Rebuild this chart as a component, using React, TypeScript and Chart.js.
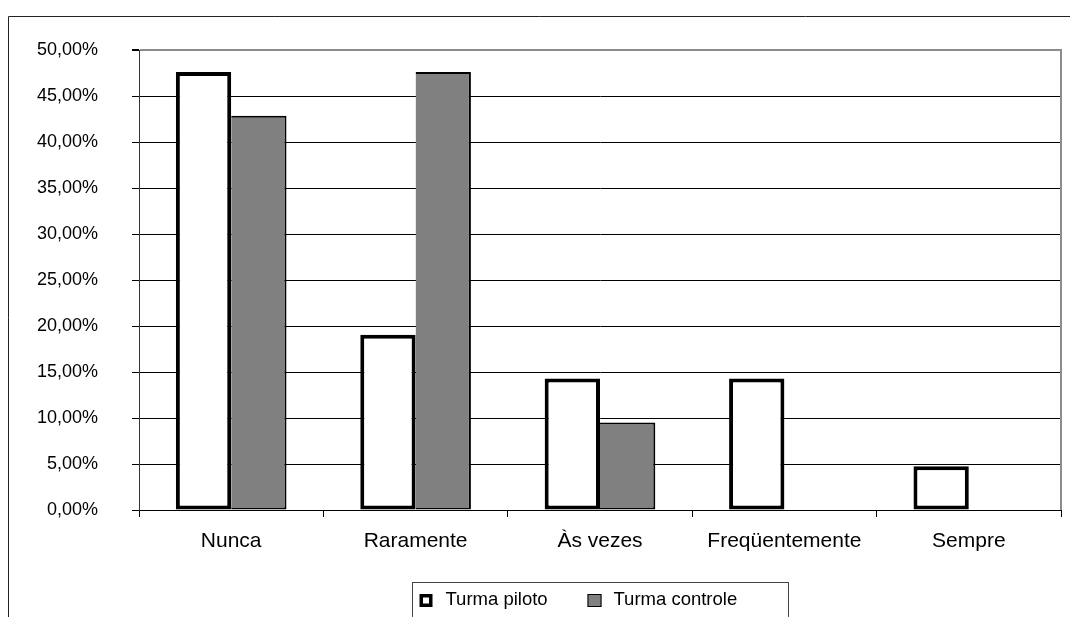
import React, { useEffect, useRef } from "react";
import { Chart, registerables } from "chart.js";

Chart.register(...registerables);

// Frequência de respostas por turma (percentual)
const categories = ["Nunca", "Raramente", "Às vezes", "Freqüentemente", "Sempre"];
const pilotoValues = [47.62, 19.05, 14.29, 14.29, 4.76];
const controleValues = [42.86, 47.62, 9.52, 0, 0];
const seriesNames = ["Turma piloto", "Turma controle"];
const yMax = 50;
const yStep = 5;

const FONT = '"Liberation Sans", Arial, Helvetica, sans-serif';

const formatPercent = (v: number) => v.toFixed(2).replace(".", ",") + "%";

// Draws the outer frame, the right edge of the plot area and the boxed legend.
const framePlugin = {
  id: "frameAndLegend",
  afterDraw(chart: any) {
    const { ctx, chartArea } = chart;
    ctx.save();

    // right edge of the plot area
    ctx.strokeStyle = "#8c8c8c";
    ctx.lineWidth = 2;
    ctx.beginPath();
    ctx.moveTo(chartArea.right, chartArea.top - 1);
    ctx.lineTo(chartArea.right, chartArea.bottom);
    ctx.stroke();

    // outer chart frame
    ctx.strokeStyle = "#222";
    ctx.lineWidth = 1;
    ctx.beginPath();
    ctx.moveTo(8.5, chart.height + 5);
    ctx.lineTo(8.5, 16.5);
    ctx.lineTo(chart.width + 5, 16.5);
    ctx.stroke();

    // legend box centred under the plot area
    const center = (chartArea.left + chartArea.right) / 2;
    const boxW = 376;
    const boxL = Math.round(center - boxW / 2) + 0.5;
    const boxT = 582.5;
    ctx.strokeStyle = "#444";
    ctx.lineWidth = 1;
    ctx.strokeRect(boxL, boxT, boxW, 80);

    const midY = 600;
    const ds = chart.data.datasets;
    ctx.font = `18.5px ${FONT}`;
    ctx.textBaseline = "middle";
    ctx.textAlign = "left";

    // Turma piloto swatch
    const x1 = boxL + 7;
    ctx.fillStyle = "#000";
    ctx.fillRect(x1, midY - 6, 13, 13);
    ctx.fillStyle = ds[0].backgroundColor;
    ctx.fillRect(x1 + 3.5, midY - 2.5, 6, 6);
    ctx.fillStyle = "#000";
    ctx.fillText(ds[0].label, boxL + 33, midY);

    // Turma controle swatch
    const x2 = boxL + 175;
    ctx.fillStyle = ds[1].backgroundColor;
    ctx.fillRect(x2, midY - 6, 14, 13);
    ctx.strokeStyle = "#000";
    ctx.lineWidth = 1;
    ctx.strokeRect(x2 + 0.5, midY - 5.5, 13, 12);
    ctx.fillStyle = "#000";
    ctx.fillText(ds[1].label, boxL + 201, midY);

    ctx.restore();
  },
};

export default function App() {
  const canvasRef = useRef<HTMLCanvasElement | null>(null);

  useEffect(() => {
    const canvas = canvasRef.current;
    if (!canvas) return;

    const chart = new Chart(canvas, {
      type: "bar",
      data: {
        labels: categories,
        datasets: [
          {
            label: seriesNames[0],
            data: pilotoValues,
            backgroundColor: "#ffffff",
            borderColor: "#000000",
            borderWidth: 4,
            borderSkipped: false,
            barPercentage: 1,
            categoryPercentage: 0.6,
          },
          {
            label: seriesNames[1],
            data: controleValues,
            backgroundColor: "#808080",
            borderColor: "#000000",
            borderWidth: { top: 2, right: 2, bottom: 2, left: 0 },
            borderSkipped: false,
            barPercentage: 1,
            categoryPercentage: 0.6,
          },
        ],
      },
      options: {
        responsive: false,
        animation: false,
        devicePixelRatio: 1,
        layout: { padding: { top: 50, right: 9, bottom: 0, left: 0 } },
        plugins: {
          legend: { display: false },
          tooltip: { enabled: false },
        },
        scales: {
          x: {
            offset: true,
            ticks: {
              padding: 12,
              color: "#000",
              font: { family: FONT, size: 21 },
              maxRotation: 0,
              autoSkip: false,
            },
            grid: {
              offset: true,
              drawOnChartArea: false,
              drawTicks: true,
              tickLength: 7,
              color: "#000",
            },
            border: { display: true, color: "#000", width: 1 },
            afterFit(scale: any) {
              scale.height = 107;
              scale.paddingLeft = 0;
              scale.paddingRight = 0;
            },
          },
          y: {
            min: 0,
            max: yMax,
            ticks: {
              stepSize: yStep,
              padding: 34,
              color: "#000",
              font: { family: FONT, size: 18 },
              callback: (v: any) => formatPercent(Number(v)),
            },
            grid: {
              color: (c: any) => (c.tick && c.tick.value === yMax ? "#8c8c8c" : "#000"),
              lineWidth: (c: any) => (c.tick && c.tick.value === yMax ? 2 : 1),
              tickColor: "#000",
              tickLength: 7,
              drawTicks: true,
            },
            border: { display: true, color: "#333", width: 1 },
            afterFit(scale: any) {
              scale.width = 139;
              scale.paddingTop = 0;
              scale.paddingBottom = 0;
            },
          },
        },
      },
      plugins: [framePlugin],
    } as any);

    return () => chart.destroy();
  }, []);

  return (
    <div
      style={{
        position: "absolute",
        left: 0,
        top: 0,
        width: 1070,
        height: 617,
        background: "#ffffff",
      }}
    >
      <canvas ref={canvasRef} width={1070} height={617} style={{ display: "block" }} />
    </div>
  );
}
